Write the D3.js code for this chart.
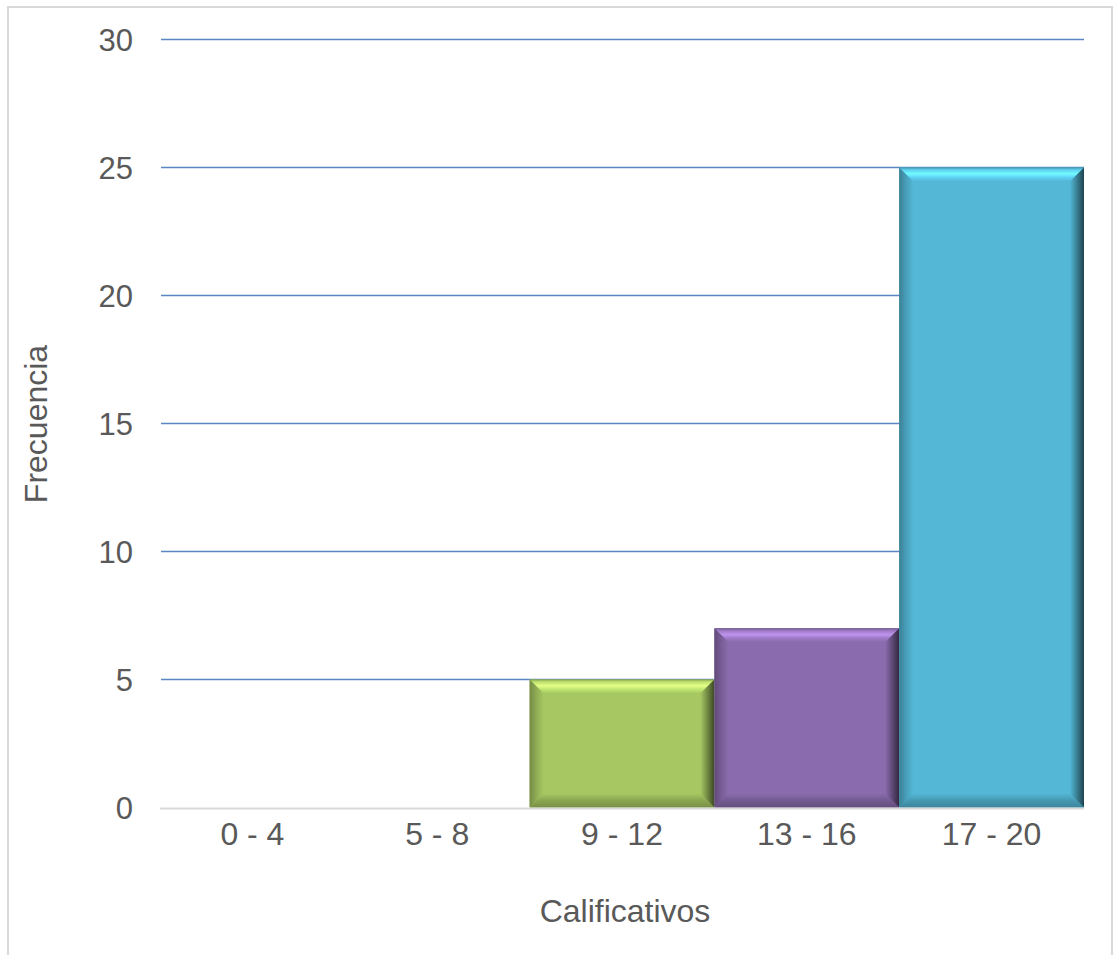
<!DOCTYPE html>
<html><head><meta charset="utf-8">
<script src="https://cdn.jsdelivr.net/npm/d3@7"></script>
<style>body{margin:0;background:#fff}svg{display:block}text{font-family:"Liberation Sans",Arial,sans-serif;fill:#595959}</style>
</head><body>
<script>
const categories = ["0 - 4","5 - 8","9 - 12","13 - 16","17 - 20"];
const frequencies = [0,0,5,7,25];
const barColors = ["#a6c762","#a6c762","#a6c762","#8a6bad","#53b7d5"];
const yTicks = [0,5,10,15,20,25,30];
const xTitle = "Calificativos";
const yTitle = "Frecuencia";

const W=1113,H=955;
const svg=d3.select("body").append("svg").attr("width",W).attr("height",H);
svg.append("rect").attr("x",8).attr("y",7).attr("width",1104).attr("height",960)
  .attr("fill","#fff").attr("stroke","#d9d9d9").attr("stroke-width",2);

const x=d3.scaleBand().domain(categories).range([160,1084]).padding(0);
const y=d3.scaleLinear().domain([0,30]).range([807.5,39.5]);

svg.append("g").selectAll("line").data(yTicks.filter(d=>d>0)).join("line")
  .attr("x1",161).attr("x2",1084).attr("y1",d=>y(d)).attr("y2",d=>y(d))
  .attr("stroke","#5a86c4").attr("stroke-width",1.3);

const yAxis=svg.append("g").attr("transform","translate(160,0)")
  .call(d3.axisLeft(y).tickValues(yTicks).tickSize(0).tickPadding(27).tickFormat(d3.format("d")));
yAxis.select(".domain").remove();
yAxis.selectAll("text").style("font-size","31px").attr("fill","#595959").attr("dy","0.35em");

const defs=svg.append("defs");
function gradient(id,dir,stops){
  const g=defs.append("linearGradient").attr("id",id);
  if(dir==="v"){g.attr("x1",0).attr("y1",0).attr("x2",0).attr("y2",1);}
  else{g.attr("x1",0).attr("y1",0).attr("x2",1).attr("y2",0);}
  stops.forEach(s=>g.append("stop").attr("offset",s[0]).attr("stop-color",s[1]));
}
const bev=14;
frequencies.forEach((v,i)=>{
  if(v<=0) return;
  const c=d3.color(barColors[i]);
  const x0=x(categories[i]), x1=x0+x.bandwidth(), y0=y(v), y1=y(0);
  const base=c.formatHex();
  const id="b"+i;
  gradient(id+"t","v",[[0,c.darker(0.6).formatHex()],[0.15,c.brighter(0.3).formatHex()],[0.45,c.brighter(0.9).formatHex()],[0.7,c.brighter(0.4).formatHex()],[1,base]]);
  gradient(id+"b","v",[[0,base],[0.5,c.darker(0.5).formatHex()],[1,c.darker(0.9).formatHex()]]);
  gradient(id+"l","h",[[0,c.darker(1.0).formatHex()],[0.5,c.darker(0.4).formatHex()],[1,base]]);
  gradient(id+"r","h",[[0,base],[0.4,c.darker(0.8).formatHex()],[1,c.darker(2.8).formatHex()]]);
  const g=svg.append("g");
  g.append("rect").attr("x",x0).attr("y",y0).attr("width",x1-x0).attr("height",y1-y0).attr("fill",base);
  const poly=(pts,f)=>g.append("polygon").attr("points",pts.map(p=>p.join(",")).join(" ")).attr("fill",f);
  poly([[x0,y0],[x1,y0],[x1-bev,y0+bev],[x0+bev,y0+bev]],`url(#${id}t)`);
  poly([[x0,y1],[x1,y1],[x1-bev,y1-bev],[x0+bev,y1-bev]],`url(#${id}b)`);
  poly([[x0,y0],[x0+bev,y0+bev],[x0+bev,y1-bev],[x0,y1]],`url(#${id}l)`);
  poly([[x1,y0],[x1-bev,y0+bev],[x1-bev,y1-bev],[x1,y1]],`url(#${id}r)`);
});

svg.append("line").attr("x1",160).attr("x2",1084).attr("y1",y(0)+1).attr("y2",y(0)+1)
  .attr("stroke","#d9d9d9").attr("stroke-width",2);
const xAxis=svg.append("g").attr("transform",`translate(0,${y(0)})`)
  .call(d3.axisBottom(x).tickSize(0).tickPadding(15));
xAxis.select(".domain").remove();
xAxis.selectAll("text").style("font-size","32px").attr("fill","#595959");

svg.append("text").attr("x",625).attr("y",922).attr("text-anchor","middle").style("font-size","32px").text(xTitle);
svg.append("text").attr("transform","translate(47,424) rotate(-90)").attr("text-anchor","middle").style("font-size","32px").text(yTitle);
</script>
</body></html>
